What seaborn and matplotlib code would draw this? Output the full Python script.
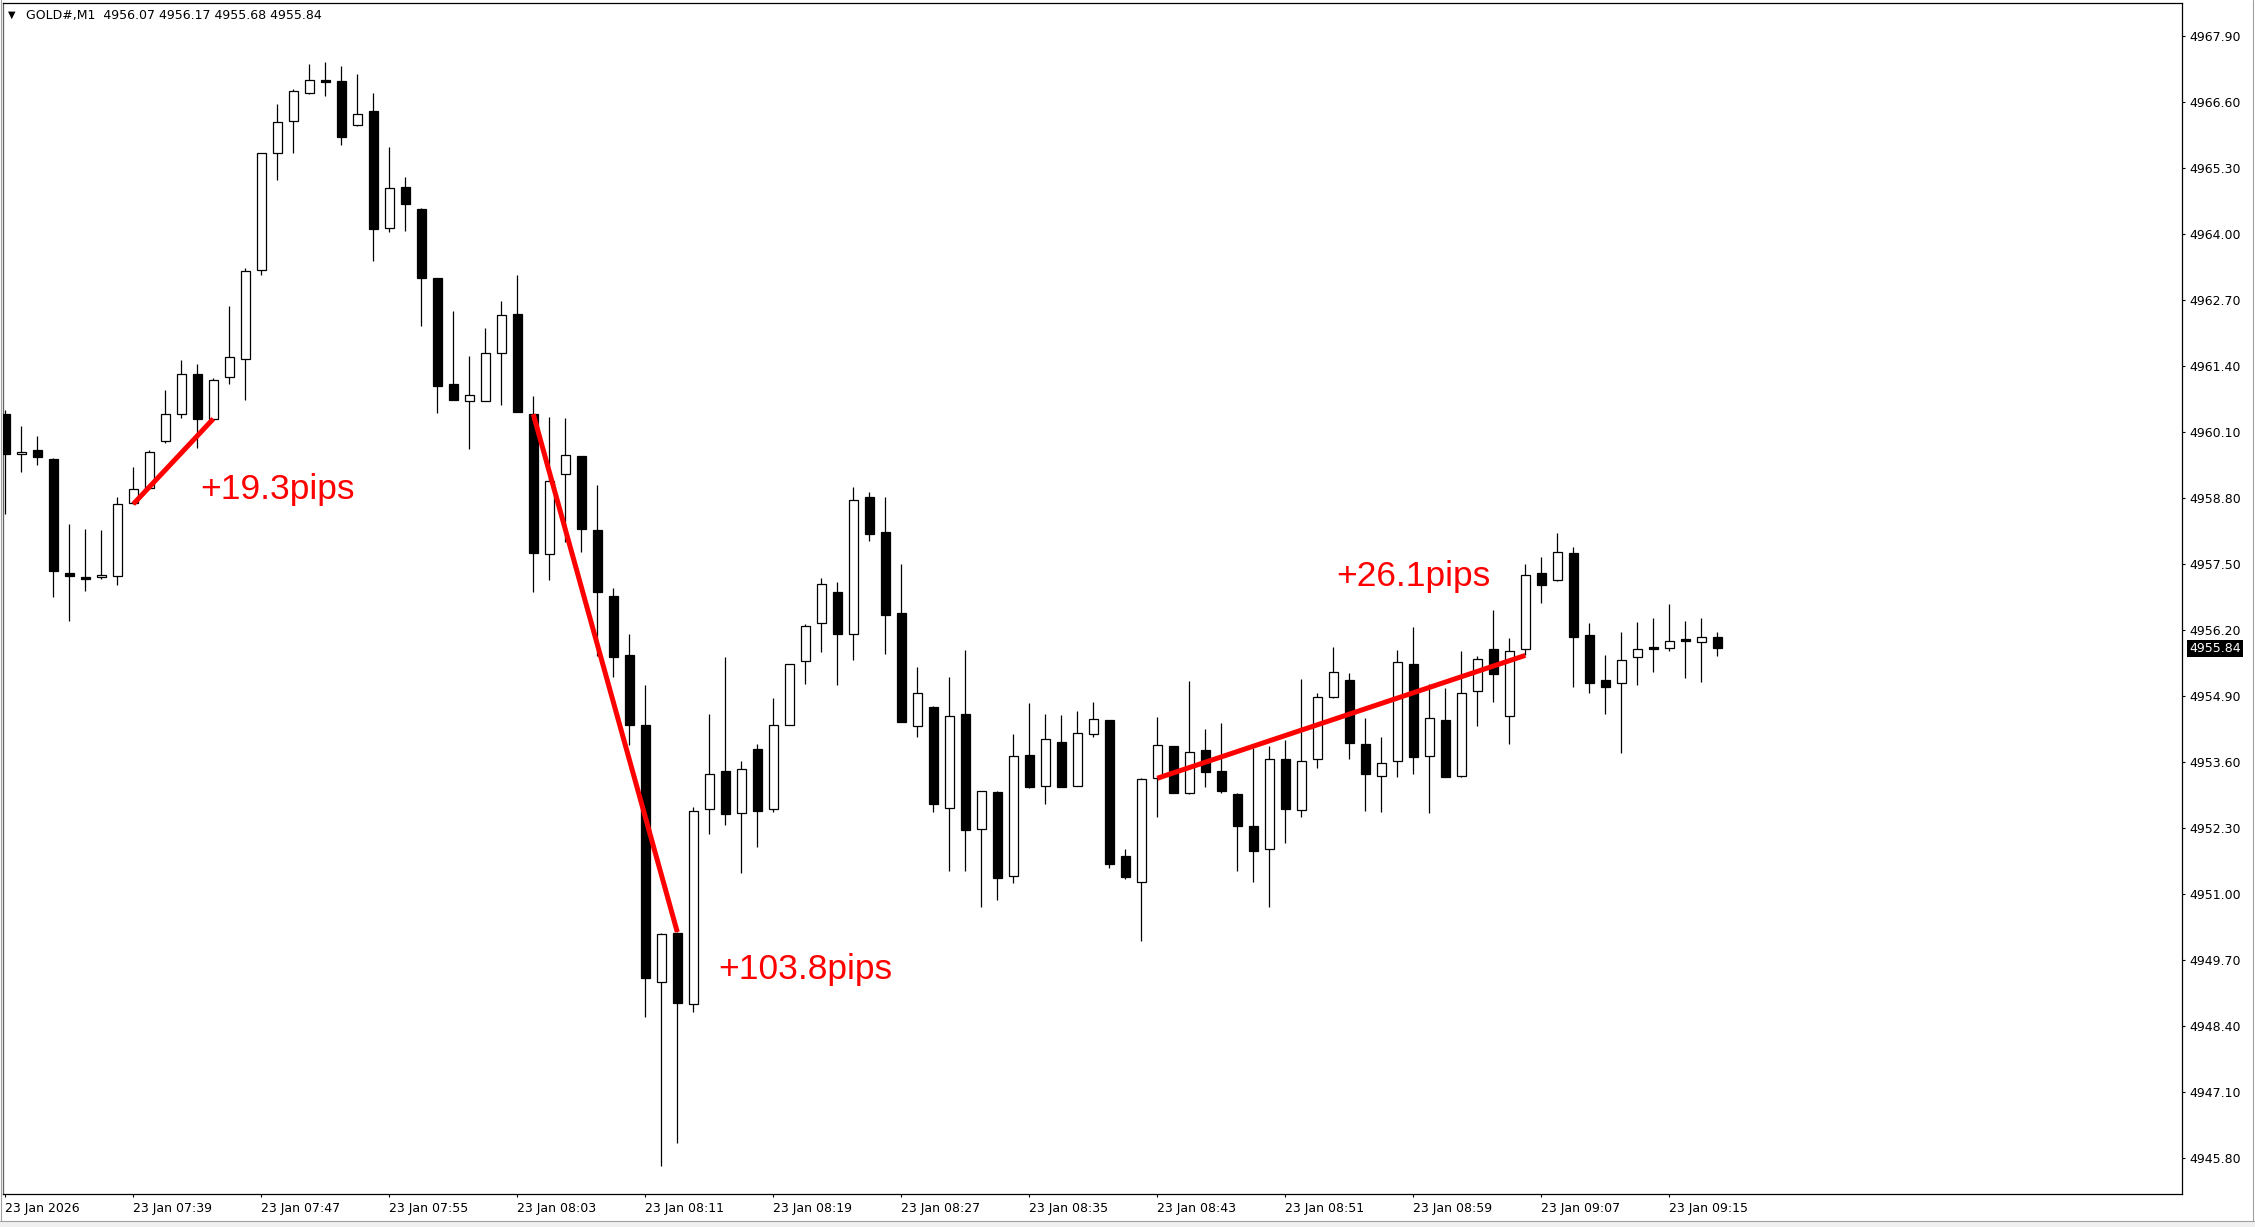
import numpy as np
import pandas as pd
import matplotlib
matplotlib.use("Agg")
import matplotlib.pyplot as plt
import matplotlib.transforms as mtransforms
from matplotlib.patches import Rectangle
import seaborn as sns

open_ = [4960.46, 4959.66, 4959.75, 4959.56, 4957.32, 4957.25, 4957.24, 4957.26, 4958.71, 4958.99,
         4959.92, 4960.46, 4961.25, 4960.35, 4961.18, 4961.53, 4963.30, 4965.59, 4966.22, 4966.77,
         4967.00, 4967.01, 4966.14, 4966.42, 4964.11, 4964.92, 4964.49, 4963.13, 4961.04, 4960.72,
         4960.72, 4961.66, 4962.42, 4960.45, 4957.70, 4959.28, 4959.62, 4958.17, 4956.87, 4955.71,
         4954.33, 4949.27, 4950.24, 4948.84, 4952.67, 4953.43, 4952.59, 4953.85, 4952.68, 4954.33,
         4955.58, 4956.33, 4956.95, 4956.12, 4958.82, 4958.13, 4956.53, 4954.30, 4954.68, 4952.70,
         4954.55, 4952.28, 4953.01, 4951.35, 4953.73, 4953.12, 4953.99, 4953.12, 4954.15, 4954.42,
         4951.74, 4951.23, 4953.28, 4953.91, 4952.98, 4953.83, 4953.42, 4952.96, 4952.33, 4951.88,
         4953.65, 4952.65, 4953.65, 4954.89, 4955.22, 4953.95, 4953.32, 4953.61, 4955.54, 4953.71,
         4954.42, 4953.32, 4955.00, 4955.82, 4954.50, 4955.82, 4957.32, 4957.19, 4957.71, 4956.10,
         4955.21, 4955.15, 4955.66, 4955.85, 4955.84, 4956.02, 4955.96, 4956.07]
high = [4960.54, 4960.21, 4960.03, 4959.58, 4958.29, 4958.19, 4958.17, 4958.82, 4959.41, 4959.75,
        4960.92, 4961.52, 4961.44, 4961.16, 4962.59, 4963.33, 4965.60, 4966.57, 4966.85, 4967.35,
        4967.38, 4967.30, 4967.15, 4966.78, 4965.72, 4965.13, 4964.52, 4963.14, 4962.48, 4961.60,
        4962.14, 4962.68, 4963.19, 4960.80, 4960.40, 4960.37, 4959.63, 4959.05, 4957.03, 4956.12,
        4955.12, 4950.23, 4950.25, 4952.72, 4954.55, 4955.66, 4953.61, 4953.95, 4954.86, 4955.54,
        4956.32, 4957.22, 4957.14, 4959.01, 4958.91, 4958.81, 4957.50, 4955.47, 4954.71, 4955.28,
        4955.80, 4953.03, 4953.02, 4954.15, 4954.76, 4954.55, 4954.53, 4954.60, 4954.78, 4954.43,
        4951.89, 4953.28, 4954.49, 4953.92, 4955.20, 4954.25, 4954.37, 4952.98, 4953.87, 4953.92,
        4954.03, 4955.23, 4954.95, 4955.86, 4955.35, 4954.46, 4954.09, 4955.81, 4956.25, 4955.14,
        4955.05, 4955.79, 4955.68, 4956.59, 4956.04, 4957.50, 4957.64, 4958.12, 4957.83, 4956.33,
        4955.71, 4956.17, 4956.35, 4956.43, 4956.71, 4956.38, 4956.43, 4956.17]
low = [4958.49, 4959.32, 4959.45, 4956.85, 4956.37, 4956.96, 4957.20, 4957.09, 4958.69, 4958.97,
       4959.88, 4960.37, 4959.79, 4960.33, 4961.05, 4960.74, 4963.20, 4965.06, 4965.60, 4966.76,
       4966.72, 4965.76, 4966.13, 4963.46, 4964.03, 4964.06, 4962.18, 4960.48, 4960.73, 4959.76,
       4960.71, 4960.64, 4960.49, 4956.94, 4957.19, 4957.94, 4957.74, 4955.69, 4955.27, 4953.93,
       4948.57, 4945.64, 4946.10, 4948.68, 4952.18, 4952.35, 4951.41, 4951.92, 4952.61, 4954.32,
       4955.14, 4955.77, 4955.12, 4955.60, 4957.95, 4955.73, 4954.38, 4954.10, 4952.61, 4951.45,
       4951.45, 4950.74, 4950.88, 4951.22, 4953.08, 4952.78, 4953.10, 4953.12, 4954.09, 4951.52,
       4951.30, 4950.08, 4952.52, 4952.98, 4952.97, 4953.10, 4952.98, 4951.46, 4951.24, 4950.75,
       4952.01, 4952.52, 4953.49, 4954.87, 4953.65, 4952.63, 4952.61, 4953.31, 4953.36, 4952.59,
       4953.30, 4953.30, 4954.30, 4954.79, 4953.96, 4955.71, 4956.74, 4957.17, 4955.07, 4954.95,
       4954.55, 4953.78, 4955.12, 4955.38, 4955.79, 4955.26, 4955.18, 4955.68]
close = [4959.67, 4959.71, 4959.60, 4957.37, 4957.26, 4957.21, 4957.27, 4958.68, 4958.98, 4959.71,
         4960.46, 4961.25, 4960.35, 4961.13, 4961.57, 4963.27, 4965.59, 4966.21, 4966.81, 4967.03,
         4966.99, 4965.91, 4966.36, 4964.09, 4964.90, 4964.60, 4963.14, 4961.01, 4960.74, 4960.82,
         4961.65, 4962.41, 4960.50, 4957.72, 4959.13, 4959.64, 4958.18, 4956.94, 4955.66, 4954.32,
         4949.35, 4950.22, 4948.85, 4952.63, 4953.36, 4952.57, 4953.47, 4952.64, 4954.33, 4955.53,
         4956.28, 4957.11, 4956.12, 4958.77, 4958.10, 4956.50, 4954.38, 4954.95, 4952.78, 4954.51,
         4952.26, 4953.03, 4951.31, 4953.71, 4953.10, 4954.05, 4953.10, 4954.17, 4954.44, 4951.60,
         4951.34, 4953.26, 4953.93, 4952.98, 4953.79, 4953.41, 4953.02, 4952.33, 4951.84, 4953.65,
         4952.67, 4953.61, 4954.89, 4955.37, 4953.97, 4953.36, 4953.59, 4955.56, 4953.69, 4954.46,
         4953.30, 4954.95, 4955.62, 4955.34, 4955.78, 4957.28, 4957.09, 4957.73, 4956.07, 4955.16,
         4955.08, 4955.60, 4955.82, 4955.82, 4955.99, 4955.99, 4956.06, 4955.84]

# time axis labels (one label every 8 bars)
time_labels = ["23 Jan 2026", "23 Jan 07:39", "23 Jan 07:47", "23 Jan 07:55", "23 Jan 08:03",
               "23 Jan 08:11", "23 Jan 08:19", "23 Jan 08:27", "23 Jan 08:35", "23 Jan 08:43",
               "23 Jan 08:51", "23 Jan 08:59", "23 Jan 09:07", "23 Jan 09:15"]
label_bars = [0, 8, 16, 24, 32, 40, 48, 56, 64, 72, 80, 88, 96, 104]

price_ticks = [4945.80, 4947.10, 4948.40, 4949.70, 4951.00, 4952.30, 4953.60, 4954.90,
               4956.20, 4957.50, 4958.80, 4960.10, 4961.40, 4962.70, 4964.00, 4965.30,
               4966.60, 4967.90]

# red trend lines drawn on the chart (bar index, price)
trend_x = [[8, 13], [33, 42], [72, 95]]
trend_y = [[4958.68, 4960.36], [4960.45, 4950.25], [4953.28, 4955.70]]
pip_texts = ["+19.3pips", "+103.8pips", "+26.1pips"]

last_price = 4955.84

df = pd.DataFrame({"open": open_, "high": high, "low": low, "close": close})
df["bar"] = np.arange(len(df))
df["up"] = df["close"] >= df["open"]

sns.set_theme(style="white")
plt.rcParams["font.family"] = ["DejaVu Sans"]

W, H = 2255, 1227
fig = plt.figure(figsize=(W / 100, H / 100), dpi=100)
fig.patch.set_facecolor("white")

# plot area in pixels: left 3, top 3, right 2182, bottom 1194
ax = fig.add_axes([3 / W, (H - 1194) / H, (2182 - 3) / W, (1194 - 3) / H])
ax.set_facecolor("white")

# wicks
ax.vlines(df["bar"], df["low"], df["high"], color="black", linewidth=0.9, zorder=2)

# bodies
body_bottom = df[["open", "close"]].min(axis=1)
body_h = (df["close"] - df["open"]).abs().clip(lower=0.04)
face = np.where(df["up"], "white", "black")
ax.bar(df["bar"], body_h, bottom=body_bottom, width=0.6, color=face,
       edgecolor="black", linewidth=0.9, zorder=3)

# red trend lines
for xs, ys in zip(trend_x, trend_y):
    sns.lineplot(x=xs, y=ys, ax=ax, color="#ff0000", linewidth=3.6, zorder=4,
                 solid_capstyle="butt", legend=False)

# pip annotations
txt_font = dict(color="#ff0000", fontsize=25.5, family=["Liberation Sans", "DejaVu Sans"],
                ha="left", va="baseline", zorder=5)
ax.text(12.17, 4958.79, pip_texts[0], **txt_font)
ax.text(44.56, 4949.33, pip_texts[1], **txt_font)
ax.text(83.2, 4957.07, pip_texts[2], **txt_font)

# scales
ax.set_xlim((3 - 5.3) / 16, (2182 - 5.3) / 16)
ax.set_ylim(4945.091, 4968.55)

ax.yaxis.tick_right()
ax.set_yticks(price_ticks)
ax.set_yticklabels([f"{v:.2f}" for v in price_ticks])
ax.set_xticks(label_bars)
ax.set_xticklabels(time_labels)
for t in ax.get_xticklabels():
    t.set_horizontalalignment("left")

ax.tick_params(axis="y", which="both", right=True, left=False, direction="out",
               length=2.5, width=0.8, pad=3, labelsize=9, colors="black")
ax.tick_params(axis="x", which="both", bottom=True, direction="out",
               length=2.5, width=0.8, pad=3.5, labelsize=9, colors="black")
ax.set_xlabel("")
ax.set_ylabel("")
ax.grid(False)

for name, sp in ax.spines.items():
    sp.set_visible(True)
    sp.set_color("black")
    sp.set_linewidth(0.9)
ax.spines["left"].set_color("#606060")

# current price tag on the price scale
trans = mtransforms.blended_transform_factory(ax.transAxes, ax.transData)
ax.text(1 + 7 / 2179, last_price, f"{last_price:.2f}", transform=trans, color="white",
        fontsize=9, ha="left", va="center",
        bbox=dict(boxstyle="square,pad=0.18", fc="black", ec="none"), clip_on=False)

# symbol line at top-left
fig.text(8 / W, 1 - 15 / H, "\u25bc", fontsize=7, ha="left", va="center", color="black")
fig.text(26 / W, 1 - 15 / H, "GOLD#,M1  4956.07 4956.17 4955.68 4955.84",
         fontsize=9, ha="left", va="center", color="black")

# window frame and bottom tab strip
fig.patches.append(Rectangle((0, 0), 1, 6 / H, transform=fig.transFigure,
                             facecolor="#f0f0f0", edgecolor="none", zorder=0))
fig.lines.append(plt.Line2D([0, 1], [6 / H, 6 / H], transform=fig.transFigure,
                            color="#a0a0a0", linewidth=0.8))
fig.lines.append(plt.Line2D([2253 / W, 2253 / W], [6 / H, 1], transform=fig.transFigure,
                            color="#a0a0a0", linewidth=0.8))
fig.lines.append(plt.Line2D([1 / W, 1 / W], [6 / H, 1], transform=fig.transFigure,
                            color="#a0a0a0", linewidth=0.8))

fig.savefig("out.png", dpi=100, facecolor="white")
